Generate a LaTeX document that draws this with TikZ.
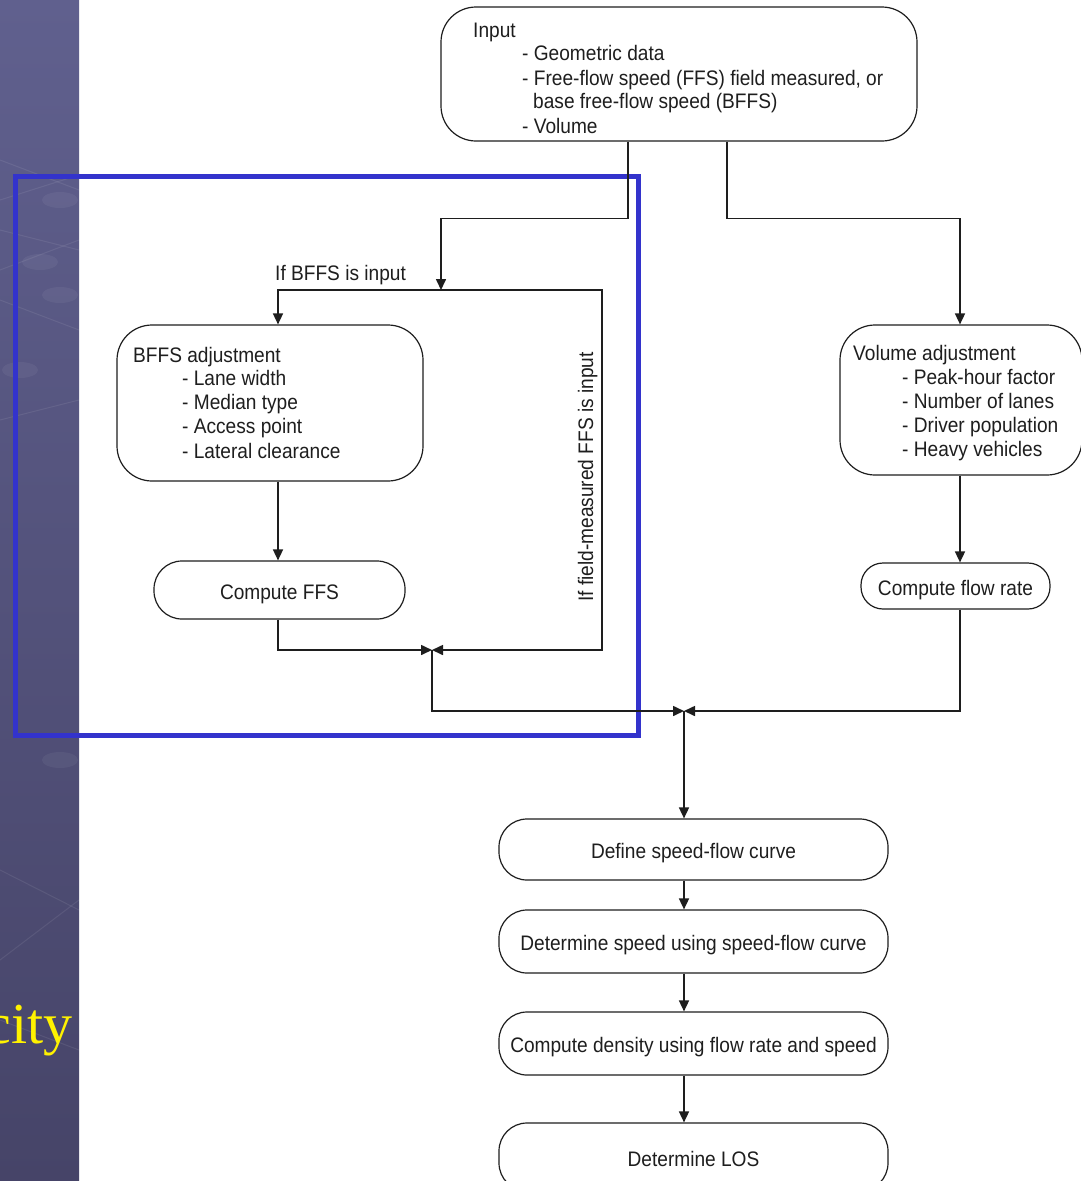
\documentclass[tikz,border=0pt]{standalone}
\usepackage{fontspec}
\setmainfont{Liberation Sans}[FakeStretch=0.91]
\newfontfamily\titleserif{Liberation Serif}
\usetikzlibrary{arrows.meta}
\definecolor{striptop}{RGB}{96,96,142}
\definecolor{stripbot}{RGB}{70,68,104}
\definecolor{hlblue}{RGB}{51,51,204}
\definecolor{ink}{RGB}{30,30,30}
\begin{document}
\begin{tikzpicture}[x=1pt,y=-1pt,
  box/.style={draw=ink,line width=1.2pt,rounded corners=#1,inner sep=0pt},
  box/.default=32pt,
  bx/.style={box=28pt,text height=18pt,text depth=0pt,font=\fontsize{21}{24}\selectfont,text=ink},
  txt/.style={anchor=base west,inner sep=0pt,font=\fontsize{21}{24}\selectfont,text=ink},
  arr/.style={draw=ink,line width=1.6pt,-{Triangle[length=11pt,width=10pt]}},
  ln/.style={draw=ink,line width=1.6pt}]
\useasboundingbox (0,0) rectangle (1081,1181);
\fill[white] (0,0) rectangle (1081,1181);
% left strip
\begin{scope}
\clip (0,0) rectangle (79,1181);
\shade[top color=striptop,bottom color=stripbot] (0,0) rectangle (79,1181);
\foreach \a/\b in {160/190,200/175,230/250,270/240,300/330,420/400,870/910,960/900,1020/1050}
  \draw[white,opacity=0.08,line width=1pt] (0,\a) -- (79,\b);
\foreach \p in {(60,200),(40,262),(60,295),(20,370),(60,760)}
  \fill[white,opacity=0.05] \p ellipse (18pt and 8pt);
\node[anchor=base east,inner sep=0pt,text=yellow,font=\titleserif\fontsize{58}{62}\selectfont] (city) at (73,1043) {city};
\end{scope}
% highlight rectangle
\draw[hlblue,line width=5pt] (15,176) rectangle (638,735);
% boxes
\node[box=35pt,minimum width=476pt,minimum height=134pt] (input) at (679,74) {};
\node[txt] (inT) at (473,37) {Input};
\node[txt] (in1) at (522,60) {- Geometric data};
\node[txt] (in2) at (522,85) {- Free-flow speed (FFS) field measured, or};
\node[txt] (in3) at (533,108) {base free-flow speed (BFFS)};
\node[txt] (in4) at (522,133) {- Volume};

\node[box=35pt,minimum width=306pt,minimum height=156pt] (bffs) at (270,403) {};
\node[txt] (bfT) at (133,362) {BFFS adjustment};
\node[txt] (bf1) at (182,385) {- Lane width};
\node[txt] (bf2) at (182,409) {- Median type};
\node[txt] (bf3) at (182,433) {- Access point};
\node[txt] (bf4) at (182,458) {- Lateral clearance};

\node[bx,minimum width=251pt,minimum height=58pt] (cffs) at (279.5,590) {Compute FFS};

\node[box=35pt,minimum width=242pt,minimum height=150pt] (vol) at (961,400) {};
\node[txt] (voT) at (853,360) {Volume adjustment};
\node[txt] (vo1) at (902,384) {- Peak-hour factor};
\node[txt] (vo2) at (902,408) {- Number of lanes};
\node[txt] (vo3) at (902,432) {- Driver population};
\node[txt] (vo4) at (902,456) {- Heavy vehicles};

\node[bx,box=22pt,minimum width=189pt,minimum height=46pt] (cfr) at (955.5,586) {Compute flow rate};

\node[bx,minimum width=389pt,minimum height=61pt] (dsfc) at (693.5,849.5) {Define speed-flow curve};
\node[bx,minimum width=389pt,minimum height=63pt] (dsp) at (693.5,941.5) {Determine speed using speed-flow curve};
\node[bx,minimum width=389pt,minimum height=63pt] (cden) at (693.5,1043.5) {Compute density using flow rate and speed};
\node[bx,minimum width=389pt,minimum height=68pt] (los) at (693.5,1157) {Determine LOS};

% labels
\node[txt] (lb1) at (275,280) {If BFFS is input};
\node[txt,rotate=90] (lb2) at (593,602) {If field-measured FFS is input};

% junction points
\coordinate (s1) at (441,290);
\coordinate (j1) at (432,650);
\coordinate (j2) at (684,711);
\coordinate (r1) at (602,290);

% connectors
\draw[arr] ([xshift=-51pt]input.south) -- ++(0,77) -| (s1);
\draw[arr] ([xshift=48pt]input.south) -- ++(0,77) -| ([xshift=-1pt]vol.north);
\draw[arr] (s1) -| ([xshift=8pt]bffs.north);
\draw[arr] (s1) -- (r1) |- (j1);
\draw[arr] ([xshift=8pt]bffs.south) -- ([xshift=8pt]bffs.south |- cffs.north);
\draw[arr] ([xshift=-1.5pt]cffs.south) |- (j1);
\draw[arr] (j1) |- (j2);
\draw[arr] ([xshift=-1pt]vol.south) -- ([xshift=-1pt]vol.south |- cfr.north);
\draw[arr] ([xshift=4.5pt]cfr.south) |- (j2);
\draw[arr] (j2) -- (j2 |- dsfc.north);
\draw[arr] (dsfc.south -| j2) -- (dsp.north -| j2);
\draw[arr] (dsp.south -| j2) -- (cden.north -| j2);
\draw[arr] (cden.south -| j2) -- (los.north -| j2);
\end{tikzpicture}
\end{document}
